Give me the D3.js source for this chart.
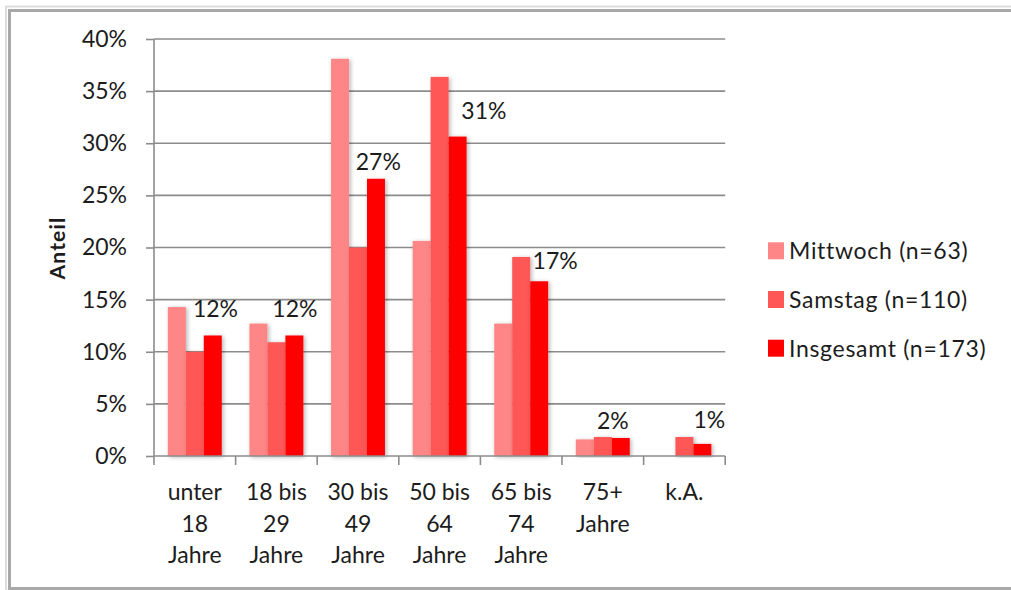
<!DOCTYPE html>
<html>
<head>
<meta charset="utf-8">
<script src="https://cdn.jsdelivr.net/npm/d3@7"></script>
<style>
  html, body { margin: 0; padding: 0; background: #fff; }
  svg { display: block; }
  text { font-family: Lato, "Open Sans", sans-serif; fill: #1c1c1c; }
</style>
</head>
<body>
<svg id="chart" width="1011" height="590"></svg>
<script>
// Age groups (multi-line axis labels)
const categories = ["unter 18 Jahre", "18 bis 29 Jahre", "30 bis 49 Jahre", "50 bis 64 Jahre", "65 bis 74 Jahre", "75+ Jahre", "k.A."];
const categoryLines = [["unter", "18", "Jahre"], ["18 bis", "29", "Jahre"], ["30 bis", "49", "Jahre"], ["50 bis", "64", "Jahre"], ["65 bis", "74", "Jahre"], ["75+", "Jahre"], ["k.A."]];

// Series names
const seriesNames = ["Mittwoch (n=63)", "Samstag (n=110)", "Insgesamt (n=173)"];

// Shares in percent
const mittwoch  = [14.29, 12.70, 38.10, 20.63, 12.70, 1.59, 0];
const samstag   = [10.00, 10.91, 20.00, 36.36, 19.09, 1.82, 1.82];
const insgesamt = [11.56, 11.56, 26.59, 30.64, 16.76, 1.73, 1.16];

// Value labels shown for the total series
const totalLabels = ["12%", "12%", "27%", "31%", "17%", "2%", "1%"];

// Y axis ticks
const yTicks = [0, 5, 10, 15, 20, 25, 30, 35, 40];

// ---- layout & style ----
const colors = ["#ff8686", "#ff5656", "#ff0000"];
const plot = { left: 154, right: 725.2, top: 39, bottom: 456 };
const fontSize = 23;
// per-group nudge of the total label: [dx from bar centre, lift above bar top]
const labelNudge = [[2.7, 18.3], [0.5, 18.3], [2.3, 8.7], [26.3, 18], [16, 12.4], [-8, 8.7], [7, 16]];

const svg = d3.select("#chart");

// Shadow under the bars
const defs = svg.append("defs");
const f = defs.append("filter").attr("id", "barShadow")
  .attr("x", "-30%").attr("y", "-10%").attr("width", "160%").attr("height", "120%");
f.append("feDropShadow").attr("dx", 1.5).attr("dy", 1).attr("stdDeviation", 2)
  .attr("flood-color", "#000").attr("flood-opacity", 0.3);

// Chart frame
svg.append("rect").attr("x", 6).attr("y", 6.5).attr("width", 1030).attr("height", 584)
  .attr("fill", "none").attr("stroke", "#dcdcdc").attr("stroke-width", 2);
svg.append("rect").attr("x", 9.5).attr("y", 10.5).attr("width", 1030).attr("height", 578)
  .attr("fill", "none").attr("stroke", "#a8a8a8").attr("stroke-width", 3);

// Scales
const y = d3.scaleLinear().domain([0, 40]).range([plot.bottom, plot.top]);
const x0 = d3.scaleBand().domain(categories).range([plot.left, plot.right]).padding(0);
const x1 = d3.scaleBand().domain(seriesNames).range([0, x0.bandwidth()]).paddingInner(0).paddingOuter(0.77);

// Gridlines
svg.append("g").selectAll("line").data(yTicks.filter(d => d > 0)).join("line")
  .attr("x1", plot.left).attr("x2", plot.right)
  .attr("y1", d => y(d)).attr("y2", d => y(d))
  .attr("stroke", "#8c8c8c").attr("stroke-width", 1.6);

// Bars
const seriesData = [mittwoch, samstag, insgesamt];
const groups = svg.append("g").selectAll("g").data(categories).join("g")
  .attr("transform", d => `translate(${x0(d)},0)`);
groups.selectAll("rect")
  .data((c, i) => seriesNames.map((s, k) => ({ s, k, v: seriesData[k][i] })))
  .join("rect")
  .filter(d => d.v > 0)
  .attr("x", d => x1(d.s))
  .attr("width", x1.bandwidth())
  .attr("y", d => y(d.v))
  .attr("height", d => y(0) - y(d.v))
  .attr("fill", d => colors[d.k])
  .attr("filter", "url(#barShadow)");

// Y axis
const yAxis = svg.append("g").attr("transform", `translate(${plot.left},0)`)
  .call(d3.axisLeft(y).tickValues(yTicks).tickFormat(d => d + "%").tickSize(8).tickPadding(19));
yAxis.select(".domain").attr("stroke", "#8c8c8c").attr("stroke-width", 1.6)
  .attr("d", `M0,${plot.top}V${plot.bottom}`);
yAxis.selectAll(".tick line").attr("stroke", "#8c8c8c").attr("stroke-width", 1.6);
yAxis.selectAll(".tick text").attr("font-size", fontSize).attr("fill", "#1c1c1c")
  .style("font-family", "Lato, 'Open Sans', sans-serif");

// X axis line and ticks at band boundaries
const xAxis = svg.append("g");
xAxis.append("line").attr("x1", plot.left).attr("x2", plot.right)
  .attr("y1", plot.bottom).attr("y2", plot.bottom)
  .attr("stroke", "#8c8c8c").attr("stroke-width", 1.6);
const boundaries = categories.map(c => x0(c)).concat([x0(categories[categories.length - 1]) + x0.bandwidth()]);
xAxis.selectAll("line.t").data(boundaries).join("line").attr("class", "t")
  .attr("x1", d => d).attr("x2", d => d)
  .attr("y1", plot.bottom).attr("y2", plot.bottom + 9)
  .attr("stroke", "#8c8c8c").attr("stroke-width", 1.6);

// X category labels
const lab = svg.append("g").selectAll("text").data(categories).join("text")
  .attr("text-anchor", "middle").attr("font-size", fontSize)
  .attr("x", d => x0(d) + x0.bandwidth() / 2)
  .attr("y", 500);
lab.selectAll("tspan").data((d, i) => categoryLines[i]).join("tspan")
  .attr("x", function () { return d3.select(this.parentNode).attr("x"); })
  .attr("dy", (d, j) => j === 0 ? 0 : 31.6)
  .text(d => d);

// Total value labels
svg.append("g").selectAll("text").data(categories).join("text")
  .attr("text-anchor", "middle").attr("font-size", fontSize)
  .attr("x", (c, i) => x0(c) + x1(seriesNames[2]) + x1.bandwidth() / 2 + labelNudge[i][0])
  .attr("y", (c, i) => y(insgesamt[i]) - labelNudge[i][1])
  .text((c, i) => totalLabels[i]);

// Y axis title
svg.append("text")
  .attr("transform", `translate(65,248) rotate(-90)`)
  .attr("text-anchor", "middle").attr("font-size", 21).attr("font-weight", "bold")
  .attr("letter-spacing", 1.2)
  .attr("fill", "#000")
  .text("Anteil");

// Legend
const legend = svg.append("g").selectAll("g").data(seriesNames).join("g")
  .attr("transform", (d, i) => `translate(768,${259.3 + i * 48.7})`);
legend.append("rect").attr("x", 0).attr("y", -17).attr("width", 16).attr("height", 17)
  .attr("fill", (d, i) => colors[i]);
legend.append("text").attr("x", 21).attr("y", 0).attr("font-size", fontSize)
  .attr("letter-spacing", 0.7)
  .text(d => d);
</script>
</body>
</html>
